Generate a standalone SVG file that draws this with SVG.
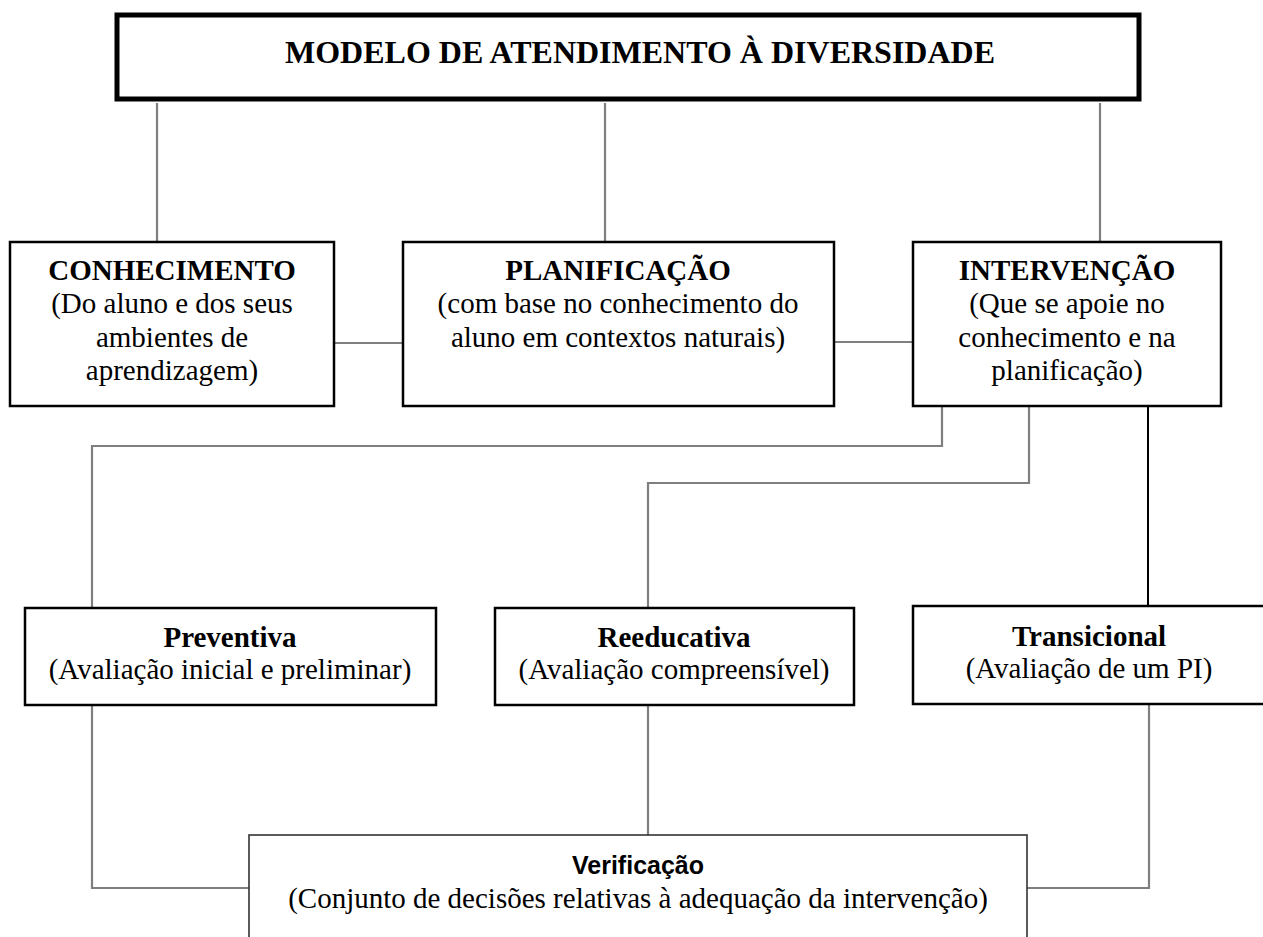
<svg xmlns="http://www.w3.org/2000/svg" width="1263" height="937" viewBox="0 0 1263 937">
<style>
.box{fill:#fff;stroke:#000;stroke-width:2.5}
.conn{fill:none;stroke:#7f7f7f;stroke-width:2.2}
.t{font-family:"Times New Roman","Liberation Serif",Tinos,Times,serif;font-size:29px;font-weight:normal;font-style:normal;fill:#000;text-anchor:middle}
.b{font-weight:bold}
.s{font-family:"Liberation Sans",Arial,sans-serif;font-size:25px;font-weight:bold;fill:#000;text-anchor:middle}
</style>
<rect width="1263" height="937" fill="#fff"/>
<g id="connectors">
<line class="conn" x1="157" y1="103" x2="157" y2="242"/>
<line class="conn" x1="605" y1="103" x2="605" y2="242"/>
<line class="conn" x1="1100" y1="103" x2="1100" y2="242"/>
<line class="conn" x1="334" y1="343" x2="403" y2="343"/>
<line class="conn" x1="834" y1="342" x2="913" y2="342"/>
<polyline class="conn" points="942,406 942,446 92,446 92,608"/>
<polyline class="conn" points="1029,406 1029,483 648,483 648,608"/>
<line x1="1148" y1="406" x2="1148" y2="606" stroke="#000" stroke-width="2"/>
<polyline class="conn" points="92,705 92,888 249,888"/>
<line class="conn" x1="648" y1="705" x2="648" y2="835"/>
<polyline class="conn" points="1149,705 1149,888 1027,888"/>
</g>
<g id="title">
<rect x="117" y="15" width="1022" height="84" fill="#fff" stroke="#000" stroke-width="5"/>
<text class="t b" x="640" y="63" style="font-size:32px">MODELO DE ATENDIMENTO À DIVERSIDADE</text>
</g>
<g id="conhecimento">
<rect class="box" x="10" y="242" width="324" height="164"/>
<text class="t b" x="172" y="280">CONHECIMENTO</text>
<text class="t" x="172" y="313">(Do aluno e dos seus</text>
<text class="t" x="172" y="347">ambientes de</text>
<text class="t" x="172" y="380">aprendizagem)</text>
</g>
<g id="planificacao">
<rect class="box" x="403" y="242" width="431" height="164"/>
<text class="t b" x="618" y="280">PLANIFICAÇÃO</text>
<text class="t" x="618" y="313">(com base no conhecimento do</text>
<text class="t" x="618" y="347">aluno em contextos naturais)</text>
</g>
<g id="intervencao">
<rect class="box" x="913" y="242" width="308" height="164"/>
<text class="t b" x="1067" y="280">INTERVENÇÃO</text>
<text class="t" x="1067" y="313">(Que se apoie no</text>
<text class="t" x="1067" y="347">conhecimento e na</text>
<text class="t" x="1067" y="380">planificação)</text>
</g>
<g id="preventiva">
<rect class="box" x="25" y="608" width="411" height="97"/>
<text class="t b" x="230" y="647">Preventiva</text>
<text class="t" x="230" y="679">(Avaliação inicial e preliminar)</text>
</g>
<g id="reeducativa">
<rect class="box" x="495" y="608" width="359" height="97"/>
<text class="t b" x="674" y="647">Reeducativa</text>
<text class="t" x="674" y="679">(Avaliação compreensível)</text>
</g>
<g id="transicional">
<rect class="box" x="913" y="606" width="370" height="98"/>
<text class="t b" x="1089" y="646">Transicional</text>
<text class="t" x="1089" y="678">(Avaliação de um PI)</text>
</g>
<g id="verificacao">
<rect x="249" y="835" width="778" height="140" fill="#fff" stroke="#333" stroke-width="1.6"/>
<text class="s" x="638" y="874">Verificação</text>
<text class="t" x="638" y="908">(Conjunto de decisões relativas à adequação da intervenção)</text>
</g>
</svg>
